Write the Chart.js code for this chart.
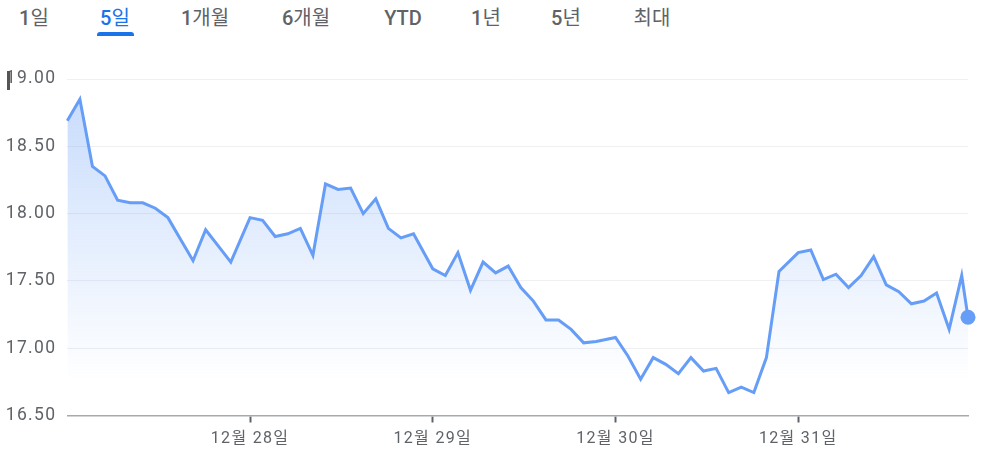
<!DOCTYPE html>
<html lang="ko">
<head>
<meta charset="utf-8">
<script src="https://cdn.jsdelivr.net/npm/chart.js@4"></script>
<style>
  html, body { margin: 0; padding: 0; background: #fff; }
  body { width: 985px; height: 458px; position: relative; overflow: hidden;
         font-family: Roboto, "Noto Sans CJK KR", sans-serif; }
  #c { position: absolute; left: 0; top: 0; }
  .tab { position: absolute; top: 5px; font-size: 20px; font-weight: 400; color: #5f6368;
         transform: translateX(-50%); white-space: nowrap; line-height: 26px; }
  .tab b { font-weight: 500; }
  .tab.active { color: #1a73e8; }
  #uline { position: absolute; left: 97px; top: 32px; width: 37px; height: 4px;
           background: #1a73e8; border-radius: 3px 3px 0 0; }
  #cursor { position: absolute; left: 7px; top: 71px; width: 3px; height: 19px; background: #555; }
</style>
</head>
<body>
<div class="tab" style="left:34px"><b>1</b>일</div>
<div class="tab active" style="left:115px"><b>5</b>일</div>
<div class="tab" style="left:205px"><b>1</b>개월</div>
<div class="tab" style="left:306px"><b>6</b>개월</div>
<div class="tab" style="left:403px"><b>YTD</b></div>
<div class="tab" style="left:486px"><b>1</b>년</div>
<div class="tab" style="left:566px"><b>5</b>년</div>
<div class="tab" style="left:652px">최대</div>
<div id="uline"></div>
<canvas id="c" width="985" height="458"></canvas>
<div id="cursor"></div>
<script>
// ---- data ----
const slotTimes = ['09:30','10:00','10:30','11:00','11:30','12:00','12:30','13:00','13:30','14:00','14:30','15:00','15:30','16:00'];
const lastTime = '16:15';
const dayLabels = ['12월 27일','12월 28일','12월 29일','12월 30일','12월 31일'];
const d27 = [18.69,18.85,18.35,18.28,18.10,18.08,18.08,18.04,17.97,17.81,17.65,17.88,17.76,17.64];
const d28 = [17.97,17.95,17.83,17.85,17.89,17.69,18.22,18.18,18.19,18.00,18.11,17.89,17.82,17.85];
const d29 = [17.59,17.54,17.71,17.43,17.64,17.56,17.61,17.45,17.35,17.21,17.21,17.14,17.04,17.05];
const d30 = [17.08,16.94,16.77,16.93,16.88,16.81,16.93,16.83,16.85,16.67,16.71,16.67,16.93,17.57];
const d31 = [17.71,17.73,17.51,17.55,17.45,17.54,17.68,17.47,17.42,17.33,17.35,17.41,17.14,17.54,17.23];
const xTickLabels = ['12월 28일','12월 29일','12월 30일','12월 31일'];
const yTickValues = [16.5,17.0,17.5,18.0,18.5,19.0];

// ---- build points ----
const DAY_SLOTS = 14.53; // horizontal width of one trading day, in 30-minute slots
function slotOf(t) { const [h,m] = t.split(':').map(Number); return (h*60+m - 570) / 30; }
const days = [d27, d28, d29, d30, d31];
const points = [];
days.forEach((vals, d) => {
  vals.forEach((v, k) => {
    const t = k < slotTimes.length ? slotTimes[k] : lastTime;
    points.push({ x: d*DAY_SLOTS + slotOf(t), y: v });
  });
});
const xMax = points[points.length-1].x;
const tickPositions = xTickLabels.map((_, i) => (i+1)*DAY_SLOTS);

const lineColor = '#669df6';
const radii = points.map((_, i) => i === points.length-1 ? 7.5 : 0);

const spacingPlugin = {
  id: 'spacing',
  beforeDraw(chart) { if ('letterSpacing' in chart.ctx) chart.ctx.letterSpacing = '1.3px'; }
};

new Chart(document.getElementById('c'), {
  type: 'line',
  plugins: [spacingPlugin],
  data: {
    datasets: [{
      data: points,
      borderColor: lineColor,
      borderWidth: 3,
      pointRadius: radii,
      pointHoverRadius: radii,
      pointBackgroundColor: lineColor,
      pointBorderWidth: 0,
      tension: 0,
      clip: false,
      fill: 'start',
      backgroundColor: (ctx) => {
        const ca = ctx.chart.chartArea;
        if (!ca) return 'rgba(102,157,246,0.2)';
        const g = ctx.chart.ctx.createLinearGradient(0, ca.top, 0, ca.bottom);
        g.addColorStop(0, 'rgba(102,157,246,0.38)');
        g.addColorStop(0.6, 'rgba(102,157,246,0.12)');
        g.addColorStop(0.9, 'rgba(102,157,246,0.0)');
        return g;
      }
    }]
  },
  options: {
    responsive: false,
    animation: false,
    events: [],
    layout: { padding: { top: 79, right: 17, bottom: 0, left: 0 } },
    plugins: { legend: { display: false }, tooltip: { enabled: false } },
    scales: {
      x: {
        type: 'linear',
        min: 0,
        max: xMax,
        afterBuildTicks: (s) => { s.ticks = tickPositions.map(v => ({ value: v })); },
        afterFit: (s) => { s.height = 42.5; },
        ticks: {
          autoSkip: false,
          maxRotation: 0,
          padding: 7,
          color: '#5f6368',
          font: { family: 'Roboto, "Noto Sans CJK KR", sans-serif', size: 16 },
          callback: (v) => { const i = tickPositions.findIndex(p => Math.abs(p - v) < 1e-6); return i >= 0 ? xTickLabels[i] : ''; }
        },
        grid: { drawOnChartArea: false, drawTicks: true, tickLength: 7, tickColor: '#5f6368', tickWidth: 2 },
        border: { display: true, color: '#a6a9ad', width: 1.5 }
      },
      y: {
        min: 16.5,
        max: 19,
        afterBuildTicks: (s) => { s.ticks = yTickValues.map(v => ({ value: v })); },
        afterFit: (s) => { s.width = 67.3; },
        ticks: {
          padding: 11,
          color: '#5f6368',
          font: { family: 'Roboto, sans-serif', size: 17.5 },
          callback: (v) => Number(v).toFixed(2)
        },
        grid: {
          drawTicks: false,
          color: (ctx) => (ctx.tick && ctx.tick.value === 16.5) ? 'rgba(0,0,0,0)' : '#eef0f2',
          lineWidth: 1
        },
        border: { display: false }
      }
    }
  }
});
</script>
</body>
</html>
